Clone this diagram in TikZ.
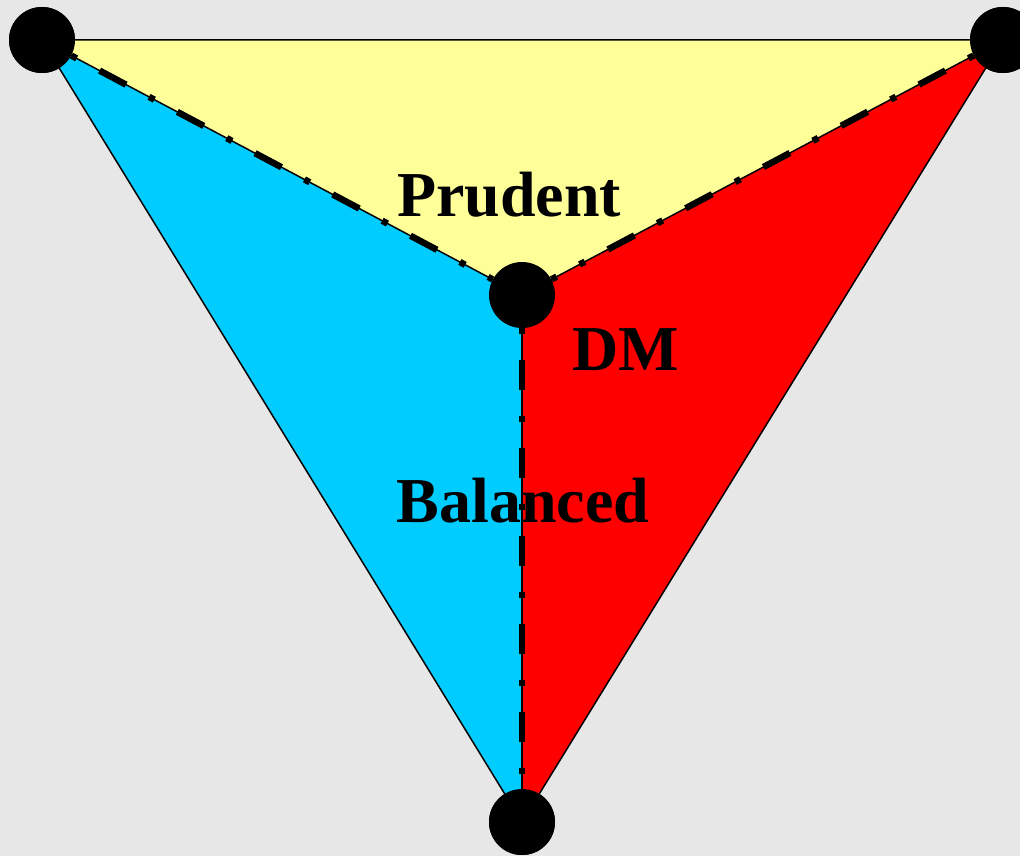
\documentclass[tikz,border=0pt]{standalone}
\usepackage{fontspec}
\setmainfont{Liberation Serif}
\usetikzlibrary{positioning}
\definecolor{prudentyellow}{RGB}{255,255,153}
\definecolor{balancedcyan}{RGB}{0,204,255}
\definecolor{dmred}{RGB}{255,0,0}
\definecolor{marble}{RGB}{231,231,231}

\begin{document}
\begin{tikzpicture}[x=1pt, y=-1pt,
  vertex/.style={circle, fill=black, minimum size=66pt, inner sep=0pt},
  rim/.style={line width=1.5pt},
  split/.style={line width=6.5pt, dash pattern=on 6pt off 26pt on 30pt off 26pt},
  tag/.style={font=\bfseries\fontsize{64}{70}\selectfont}]
  % background
  \fill[marble] (0,0) rectangle (1020,856);
  \useasboundingbox (0,0) rectangle (1020,856);
  % corners and centre
  \node[vertex] (tl) at (42,40) {};
  \node[vertex] (tr) at (1003,40) {};
  \node[vertex] (bt) at (522,822) {};
  \node[vertex] (dm) at (522,295) {};
  % the three regions
  \fill[prudentyellow] (tl.center) -- (tr.center) -- (dm.center) -- cycle;
  \fill[balancedcyan] (tl.center) -- (dm.center) -- (bt.center) -- cycle;
  \fill[dmred] (tr.center) -- (dm.center) -- (bt.center) -- cycle;
  \draw[rim] (tl.center) -- (tr.center) -- (bt.center) -- cycle;
  \draw[rim] (dm.center) -- (tl.center);
  \draw[rim] (dm.center) -- (tr.center);
  \draw[rim] (dm.center) -- (bt.center);
  % dash-dot splits
  \draw[split] (tl) -- (dm);
  \draw[split] (tr) -- (dm);
  \draw[split] (dm) -- (bt);
  % dots on top
  \foreach \v in {tl,tr,bt,dm}
    \fill (\v.center) circle (33pt);
  % labels
  \node[tag] (prudent) at (509,195) {Prudent};
  \node[tag] (dmtext) at (626,350) {DM};
  \node[tag] (balanced) at (523,501) {Balanced};
\end{tikzpicture}
\end{document}
